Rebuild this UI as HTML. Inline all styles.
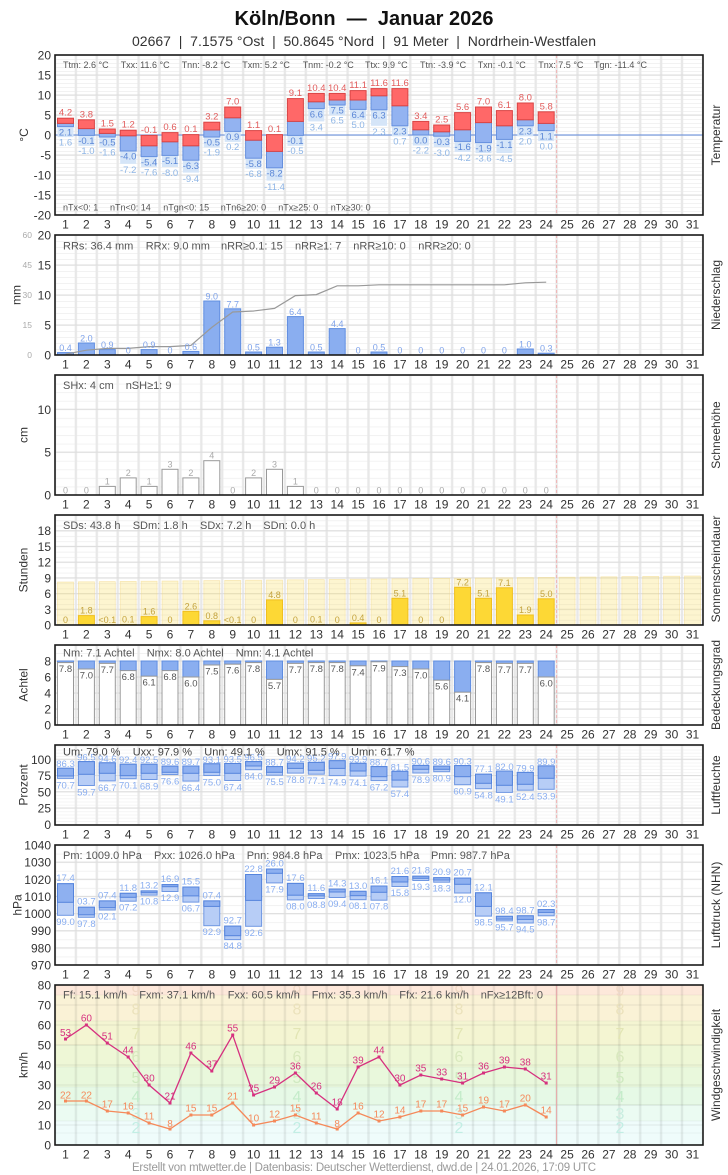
<!DOCTYPE html>
<html><head><meta charset="utf-8"><style>
html,body{margin:0;padding:0;background:#fff}
svg{display:block}
text{font-family:"Liberation Sans",Arial,sans-serif}
.tk{font-size:12px;fill:#333;text-anchor:end}
.tk2{font-size:8.5px;fill:#aaa;text-anchor:end}
.dl{font-size:12px;fill:#333;text-anchor:middle}
.st{font-size:11px;fill:#555}
.s9{font-size:9px;fill:#555}
.ax{font-size:12px;fill:#333;text-anchor:middle}
.lb{font-size:9.5px;text-anchor:middle}
.bf{font-size:16px;text-anchor:middle}
</style></head><body>
<svg width="728" height="1175" viewBox="0 0 728 1175" xmlns="http://www.w3.org/2000/svg">
<defs>
<pattern id="vg" x="55" y="0" width="20.9" height="100" patternUnits="userSpaceOnUse"><rect x="0" y="0" width="1.2" height="100" fill="#e8e8e8"/><rect x="19.7" y="0" width="1.2" height="100" fill="#e8e8e8"/></pattern>
<pattern id="vgw" x="55" y="0" width="20.9" height="100" patternUnits="userSpaceOnUse"><rect x="0" y="0" width="1.2" height="100" fill="#000" fill-opacity="0.07"/><rect x="19.7" y="0" width="1.2" height="100" fill="#000" fill-opacity="0.07"/></pattern>
<pattern id="m4" x="0" y="55" width="8" height="4" patternUnits="userSpaceOnUse"><rect width="8" height="1" fill="#f2f2f2"/></pattern>
<pattern id="m6" x="0" y="235" width="8" height="6" patternUnits="userSpaceOnUse"><rect width="8" height="1" fill="#f2f2f2"/></pattern>
<pattern id="ms" x="0" y="375" width="8" height="8.5714" patternUnits="userSpaceOnUse"><rect width="8" height="1" fill="#f2f2f2"/></pattern>
<pattern id="msun" x="0" y="515" width="8" height="5.238" patternUnits="userSpaceOnUse"><rect width="8" height="1" fill="#f2f2f2"/></pattern>
<pattern id="mc" x="0" y="645" width="8" height="8" patternUnits="userSpaceOnUse"><rect width="8" height="1" fill="#f2f2f2"/></pattern>
<pattern id="mu" x="0" y="743.05" width="8" height="3.25" patternUnits="userSpaceOnUse"><rect width="8" height="0.8" fill="#f3f3f3"/></pattern>
<pattern id="mp" x="0" y="845" width="8" height="8.5714" patternUnits="userSpaceOnUse"><rect width="8" height="1" fill="#f2f2f2"/></pattern>
</defs>
<rect width="728" height="1175" fill="#fff"/>

<!-- Title -->
<text x="364" y="25" font-size="20" font-weight="bold" text-anchor="middle" fill="#111" textLength="259" lengthAdjust="spacing">Köln/Bonn&#160;&#160;—&#160;&#160;Januar 2026</text>
<text x="364" y="46" font-size="14" text-anchor="middle" fill="#333" textLength="464" lengthAdjust="spacing">02667&#160;&#160;|&#160;&#160;7.1575 °Ost&#160;&#160;|&#160;&#160;50.8645 °Nord&#160;&#160;|&#160;&#160;91 Meter&#160;&#160;|&#160;&#160;Nordrhein-Westfalen</text>

<!-- ========== TEMPERATURE ========== -->
<rect x="55" y="55" width="648" height="160" fill="url(#m4)"/>
<rect x="55" y="55" width="648" height="160" fill="url(#vg)"/>
<path d="M55 75H703M55 95H703M55 115H703M55 155H703M55 175H703M55 195H703" stroke="#dcdcdc" stroke-width="1"/>
<line x1="556.6" y1="55" x2="556.6" y2="215" stroke="#f0b4b4" stroke-dasharray="3,2"/>
<line x1="55" y1="135" x2="703" y2="135" stroke="#5b86d8" stroke-width="1"/>
<g fill="#d5e5f8">
<rect x="57.5" y="126.6" width="16" height="10.5"/><rect x="78.4" y="135.4" width="16" height="10.5"/><rect x="99.3" y="137" width="16" height="10.5"/><rect x="120.2" y="151" width="16" height="12.8"/><rect x="141.1" y="156.6" width="16" height="10.5"/><rect x="162" y="155.4" width="16" height="11.6"/><rect x="182.9" y="160.2" width="16" height="12.4"/><rect x="203.8" y="137" width="16" height="10.5"/><rect x="224.7" y="131.4" width="16" height="10.5"/><rect x="245.6" y="158.2" width="16" height="10.5"/><rect x="266.5" y="167.8" width="16" height="12.8"/><rect x="287.4" y="135.4" width="16" height="10.5"/><rect x="308.3" y="108.6" width="16" height="12.8"/><rect x="329.2" y="105" width="16" height="10.5"/><rect x="350.1" y="109.4" width="16" height="10.5"/><rect x="371" y="109.8" width="16" height="16"/><rect x="391.9" y="125.8" width="16" height="10.5"/><rect x="412.8" y="135" width="16" height="10.5"/><rect x="433.7" y="136.2" width="16" height="10.8"/><rect x="454.6" y="141.4" width="16" height="10.5"/><rect x="475.5" y="142.6" width="16" height="10.5"/><rect x="496.4" y="139.4" width="16" height="13.6"/><rect x="517.3" y="125.8" width="16" height="10.5"/><rect x="538.2" y="130.6" width="16" height="10.5"/>
</g>
<g fill="#93b3f1" stroke="#6690de" stroke-width="1">
<rect x="57.5" y="123.4" width="16" height="3.2"/><rect x="78.4" y="128.6" width="16" height="6.8"/><rect x="99.3" y="133.4" width="16" height="3.6"/><rect x="120.2" y="135.8" width="16" height="15.2"/><rect x="141.1" y="145.8" width="16" height="10.8"/><rect x="162" y="141.8" width="16" height="13.6"/><rect x="182.9" y="145.8" width="16" height="14.4"/><rect x="203.8" y="130" width="16" height="7"/><rect x="224.7" y="117.8" width="16" height="13.6"/><rect x="245.6" y="140.2" width="16" height="18"/><rect x="266.5" y="151.4" width="16" height="16.4"/><rect x="287.4" y="121.4" width="16" height="14"/><rect x="308.3" y="101.8" width="16" height="6.8"/><rect x="329.2" y="100" width="16" height="5"/><rect x="350.1" y="100" width="16" height="9.4"/><rect x="371" y="95.8" width="16" height="14"/><rect x="391.9" y="105.8" width="16" height="20"/><rect x="412.8" y="129.8" width="16" height="5.2"/><rect x="433.7" y="131.8" width="16" height="4.4"/><rect x="454.6" y="129.8" width="16" height="11.6"/><rect x="475.5" y="122.6" width="16" height="20"/><rect x="496.4" y="125.8" width="16" height="13.6"/><rect x="517.3" y="119.8" width="16" height="6"/><rect x="538.2" y="123.4" width="16" height="7.2"/>
</g>
<g fill="#ff6868" stroke="#d94444" stroke-width="1">
<rect x="57.5" y="118.2" width="16" height="5.2"/><rect x="78.4" y="119.8" width="16" height="8.8"/><rect x="99.3" y="129" width="16" height="4.4"/><rect x="120.2" y="130.2" width="16" height="5.6"/><rect x="141.1" y="135.4" width="16" height="10.4"/><rect x="162" y="132.6" width="16" height="9.2"/><rect x="182.9" y="134.6" width="16" height="11.2"/><rect x="203.8" y="122.2" width="16" height="7.8"/><rect x="224.7" y="107" width="16" height="10.8"/><rect x="245.6" y="130.6" width="16" height="9.6"/><rect x="266.5" y="134.6" width="16" height="16.8"/><rect x="287.4" y="98.6" width="16" height="22.8"/><rect x="308.3" y="93.4" width="16" height="8.4"/><rect x="329.2" y="93.4" width="16" height="6.6"/><rect x="350.1" y="90.6" width="16" height="9.4"/><rect x="371" y="88.6" width="16" height="7.2"/><rect x="391.9" y="88.6" width="16" height="17.2"/><rect x="412.8" y="121.4" width="16" height="8.4"/><rect x="433.7" y="125" width="16" height="6.8"/><rect x="454.6" y="112.6" width="16" height="17.2"/><rect x="475.5" y="107" width="16" height="15.6"/><rect x="496.4" y="110.6" width="16" height="15.2"/><rect x="517.3" y="103" width="16" height="16.8"/><rect x="538.2" y="111.8" width="16" height="11.6"/>
</g>
<text class="lb" fill="#e25c5c"><tspan x="65.5" y="115.7">4.2</tspan><tspan x="86.4" y="117.3">3.8</tspan><tspan x="107.3" y="126.5">1.5</tspan><tspan x="128.2" y="127.7">1.2</tspan><tspan x="149.1" y="132.9">-0.1</tspan><tspan x="170" y="130.1">0.6</tspan><tspan x="190.9" y="132.1">0.1</tspan><tspan x="211.8" y="119.7">3.2</tspan><tspan x="232.7" y="104.5">7.0</tspan><tspan x="253.6" y="128.1">1.1</tspan><tspan x="274.5" y="132.1">0.1</tspan><tspan x="295.4" y="96.1">9.1</tspan><tspan x="316.3" y="90.9">10.4</tspan><tspan x="337.2" y="90.9">10.4</tspan><tspan x="358.1" y="88.1">11.1</tspan><tspan x="379" y="86.1">11.6</tspan><tspan x="399.9" y="86.1">11.6</tspan><tspan x="420.8" y="118.9">3.4</tspan><tspan x="441.7" y="122.5">2.5</tspan><tspan x="462.6" y="110.1">5.6</tspan><tspan x="483.5" y="104.5">7.0</tspan><tspan x="504.4" y="108.1">6.1</tspan><tspan x="525.3" y="100.5">8.0</tspan><tspan x="546.2" y="109.3">5.8</tspan></text>
<text class="lb" fill="#5a86d6"><tspan x="65.5" y="135.3">2.1</tspan><tspan x="86.4" y="144.1">-0.1</tspan><tspan x="107.3" y="145.7">-0.5</tspan><tspan x="128.2" y="159.7">-4.0</tspan><tspan x="149.1" y="165.3">-5.4</tspan><tspan x="170" y="164.1">-5.1</tspan><tspan x="190.9" y="168.9">-6.3</tspan><tspan x="211.8" y="145.7">-0.5</tspan><tspan x="232.7" y="140.1">0.9</tspan><tspan x="253.6" y="166.9">-5.8</tspan><tspan x="274.5" y="176.5">-8.2</tspan><tspan x="295.4" y="144.1">-0.1</tspan><tspan x="316.3" y="117.3">6.6</tspan><tspan x="337.2" y="113.7">7.5</tspan><tspan x="358.1" y="118.1">6.4</tspan><tspan x="379" y="118.5">6.3</tspan><tspan x="399.9" y="134.5">2.3</tspan><tspan x="420.8" y="143.7">0.0</tspan><tspan x="441.7" y="144.9">-0.3</tspan><tspan x="462.6" y="150.1">-1.6</tspan><tspan x="483.5" y="151.3">-1.9</tspan><tspan x="504.4" y="148.1">-1.1</tspan><tspan x="525.3" y="134.5">2.3</tspan><tspan x="546.2" y="139.3">1.1</tspan></text>
<text class="lb" fill="#8fb6e6"><tspan x="65.5" y="145.3">1.6</tspan><tspan x="86.4" y="154.1">-1.0</tspan><tspan x="107.3" y="155.7">-1.6</tspan><tspan x="128.2" y="173">-7.2</tspan><tspan x="149.1" y="175.3">-7.6</tspan><tspan x="170" y="176.2">-8.0</tspan><tspan x="190.9" y="181.8">-9.4</tspan><tspan x="211.8" y="155.7">-1.9</tspan><tspan x="232.7" y="150.1">0.2</tspan><tspan x="253.6" y="176.9">-6.8</tspan><tspan x="274.5" y="189.8">-11.4</tspan><tspan x="295.4" y="154.1">-0.5</tspan><tspan x="316.3" y="130.6">3.4</tspan><tspan x="337.2" y="123.7">6.5</tspan><tspan x="358.1" y="128.1">5.0</tspan><tspan x="379" y="135">2.3</tspan><tspan x="399.9" y="144.5">0.7</tspan><tspan x="420.8" y="153.7">-2.2</tspan><tspan x="441.7" y="156.2">-3.0</tspan><tspan x="462.6" y="161">-4.2</tspan><tspan x="483.5" y="161.3">-3.6</tspan><tspan x="504.4" y="162.2">-4.5</tspan><tspan x="525.3" y="144.5">2.0</tspan><tspan x="546.2" y="149.3">0.0</tspan></text>
<text class="s9" y="68"><tspan x="63">Ttm: 2.6 °C</tspan><tspan x="120.7">Txx: 11.6 °C</tspan><tspan x="181.7">Tnn: -8.2 °C</tspan><tspan x="242.3">Txm: 5.2 °C</tspan><tspan x="302.7">Tnm: -0.2 °C</tspan><tspan x="365">Ttx: 9.9 °C</tspan><tspan x="420">Ttn: -3.9 °C</tspan><tspan x="477.7">Txn: -0.1 °C</tspan><tspan x="538.3">Tnx: 7.5 °C</tspan><tspan x="594">Tgn: -11.4 °C</tspan></text>
<text class="s9" y="210.7"><tspan x="63">nTx&lt;0: 1</tspan><tspan x="110">nTn&lt;0: 14</tspan><tspan x="163.3">nTgn&lt;0: 15</tspan><tspan x="220.7">nTn6≥20: 0</tspan><tspan x="278.3">nTx≥25: 0</tspan><tspan x="330.7">nTx≥30: 0</tspan></text>
<rect x="55" y="55" width="648" height="160" fill="none" stroke="#1a1a1a" stroke-width="1.6"/>
<text class="tk"><tspan x="51" y="59.5">20</tspan><tspan x="51" y="79.5">15</tspan><tspan x="51" y="99.5">10</tspan><tspan x="51" y="119.5">5</tspan><tspan x="51" y="139.5">0</tspan><tspan x="51" y="159.5">-5</tspan><tspan x="51" y="179.5">-10</tspan><tspan x="51" y="199.5">-15</tspan><tspan x="51" y="219.5">-20</tspan></text>
<text class="ax" transform="translate(28,135) rotate(-90)">°C</text>
<text class="ax" transform="translate(720,135) rotate(-90)">Temperatur</text>
<text class="dl" y="228.5"><tspan x="65.5">1</tspan><tspan x="86.4">2</tspan><tspan x="107.3">3</tspan><tspan x="128.2">4</tspan><tspan x="149.1">5</tspan><tspan x="170">6</tspan><tspan x="190.9">7</tspan><tspan x="211.8">8</tspan><tspan x="232.7">9</tspan><tspan x="253.6">10</tspan><tspan x="274.5">11</tspan><tspan x="295.4">12</tspan><tspan x="316.3">13</tspan><tspan x="337.2">14</tspan><tspan x="358.1">15</tspan><tspan x="379">16</tspan><tspan x="399.9">17</tspan><tspan x="420.8">18</tspan><tspan x="441.7">19</tspan><tspan x="462.6">20</tspan><tspan x="483.5">21</tspan><tspan x="504.4">22</tspan><tspan x="525.3">23</tspan><tspan x="546.2">24</tspan><tspan x="567.1">25</tspan><tspan x="588">26</tspan><tspan x="608.9">27</tspan><tspan x="629.8">28</tspan><tspan x="650.7">29</tspan><tspan x="671.6">30</tspan><tspan x="692.5">31</tspan></text>

<!-- ========== PRECIPITATION ========== -->
<rect x="55" y="235" width="648" height="120" fill="url(#m6)"/>
<rect x="55" y="235" width="648" height="120" fill="url(#vg)"/>
<path d="M55 265H703M55 295H703M55 325H703" stroke="#dcdcdc" stroke-width="1"/>
<line x1="556.6" y1="235" x2="556.6" y2="355" stroke="#f0b4b4" stroke-dasharray="3,2"/>
<g fill="#8aaef0" stroke="#5f8de0" stroke-width="1">
<rect x="57.5" y="352.6" width="16" height="2.4"/><rect x="78.4" y="343" width="16" height="12"/><rect x="99.3" y="349.6" width="16" height="5.4"/><rect x="141.1" y="349.6" width="16" height="5.4"/><rect x="182.9" y="351.4" width="16" height="3.6"/><rect x="203.8" y="301" width="16" height="54"/><rect x="224.7" y="308.8" width="16" height="46.2"/><rect x="245.6" y="352" width="16" height="3"/><rect x="266.5" y="347.2" width="16" height="7.8"/><rect x="287.4" y="316.6" width="16" height="38.4"/><rect x="308.3" y="352" width="16" height="3"/><rect x="329.2" y="328.6" width="16" height="26.4"/><rect x="371" y="352" width="16" height="3"/><rect x="517.3" y="349" width="16" height="6"/><rect x="538.2" y="353.2" width="16" height="1.8"/>
</g>
<polyline fill="none" stroke="#999" stroke-width="1.2" points="65.5,354.2 86.4,350.2 107.3,348.4 128.2,348.4 149.1,346.6 170,346.6 190.9,345.4 211.8,327.4 232.7,312 253.6,311 274.5,308.4 295.4,295.6 316.3,294.6 337.2,285.8 358.1,285.8 379,284.8 399.9,284.8 420.8,284.8 441.7,284.8 462.6,284.8 483.5,284.8 504.4,284.8 525.3,282.8 546.2,282.2"/>
<text class="lb" fill="#7fa3ea" style="font-size:9px"><tspan x="65.5" y="351">0.4</tspan><tspan x="86.4" y="341.5">2.0</tspan><tspan x="107.3" y="348">0.9</tspan><tspan x="128.2" y="353.5">0</tspan><tspan x="149.1" y="348">0.9</tspan><tspan x="170" y="353.5">0</tspan><tspan x="190.9" y="350">0.6</tspan><tspan x="211.8" y="299.5">9.0</tspan><tspan x="232.7" y="307.3">7.7</tspan><tspan x="253.6" y="350.5">0.5</tspan><tspan x="274.5" y="345.7">1.3</tspan><tspan x="295.4" y="315.1">6.4</tspan><tspan x="316.3" y="350.5">0.5</tspan><tspan x="337.2" y="327.1">4.4</tspan><tspan x="358.1" y="353.5">0</tspan><tspan x="379" y="350.5">0.5</tspan><tspan x="399.9" y="353.5">0</tspan><tspan x="420.8" y="353.5">0</tspan><tspan x="441.7" y="353.5">0</tspan><tspan x="462.6" y="353.5">0</tspan><tspan x="483.5" y="353.5">0</tspan><tspan x="504.4" y="353.5">0</tspan><tspan x="525.3" y="347.5">1.0</tspan><tspan x="546.2" y="351.7">0.3</tspan></text>
<text class="st" y="249.5"><tspan x="63">RRs: 36.4 mm</tspan><tspan x="145.7">RRx: 9.0 mm</tspan><tspan x="221">nRR≥0.1: 15</tspan><tspan x="295">nRR≥1: 7</tspan><tspan x="353.3">nRR≥10: 0</tspan><tspan x="418.3">nRR≥20: 0</tspan></text>
<rect x="55" y="235" width="648" height="120" fill="none" stroke="#1a1a1a" stroke-width="1.6"/>
<text class="tk"><tspan x="51" y="239.5">20</tspan><tspan x="51" y="269.5">15</tspan><tspan x="51" y="299.5">10</tspan><tspan x="51" y="329.5">5</tspan><tspan x="51" y="359.5">0</tspan></text>
<text class="tk2"><tspan x="32" y="238">60</tspan><tspan x="32" y="268">45</tspan><tspan x="32" y="298">30</tspan><tspan x="32" y="328">15</tspan><tspan x="32" y="358">0</tspan></text>
<text class="ax" transform="translate(20.5,295) rotate(-90)">mm</text>
<text class="ax" transform="translate(720,295) rotate(-90)">Niederschlag</text>
<text class="dl" y="368.5"><tspan x="65.5">1</tspan><tspan x="86.4">2</tspan><tspan x="107.3">3</tspan><tspan x="128.2">4</tspan><tspan x="149.1">5</tspan><tspan x="170">6</tspan><tspan x="190.9">7</tspan><tspan x="211.8">8</tspan><tspan x="232.7">9</tspan><tspan x="253.6">10</tspan><tspan x="274.5">11</tspan><tspan x="295.4">12</tspan><tspan x="316.3">13</tspan><tspan x="337.2">14</tspan><tspan x="358.1">15</tspan><tspan x="379">16</tspan><tspan x="399.9">17</tspan><tspan x="420.8">18</tspan><tspan x="441.7">19</tspan><tspan x="462.6">20</tspan><tspan x="483.5">21</tspan><tspan x="504.4">22</tspan><tspan x="525.3">23</tspan><tspan x="546.2">24</tspan><tspan x="567.1">25</tspan><tspan x="588">26</tspan><tspan x="608.9">27</tspan><tspan x="629.8">28</tspan><tspan x="650.7">29</tspan><tspan x="671.6">30</tspan><tspan x="692.5">31</tspan></text>

<!-- ========== SNOW ========== -->
<rect x="55" y="375" width="648" height="120" fill="url(#ms)"/>
<rect x="55" y="375" width="648" height="120" fill="url(#vg)"/>
<path d="M55 409.3H703M55 452.1H703" stroke="#dcdcdc" stroke-width="1"/>
<line x1="556.6" y1="375" x2="556.6" y2="495" stroke="#f0b4b4" stroke-dasharray="3,2"/>
<g fill="#fff" stroke="#999" stroke-width="1">
<rect x="99.3" y="486.4" width="16" height="8.6"/><rect x="120.2" y="477.9" width="16" height="17.1"/><rect x="141.1" y="486.4" width="16" height="8.6"/><rect x="162" y="469.3" width="16" height="25.7"/><rect x="182.9" y="477.9" width="16" height="17.1"/><rect x="203.8" y="460.7" width="16" height="34.3"/><rect x="245.6" y="477.9" width="16" height="17.1"/><rect x="266.5" y="469.3" width="16" height="25.7"/><rect x="287.4" y="486.4" width="16" height="8.6"/>
</g>
<text class="lb" fill="#aaa" style="font-size:9px"><tspan x="65.5" y="493.5">0</tspan><tspan x="86.4" y="493.5">0</tspan><tspan x="107.3" y="484.4">1</tspan><tspan x="128.2" y="475.9">2</tspan><tspan x="149.1" y="484.4">1</tspan><tspan x="170" y="467.3">3</tspan><tspan x="190.9" y="475.9">2</tspan><tspan x="211.8" y="458.7">4</tspan><tspan x="232.7" y="493.5">0</tspan><tspan x="253.6" y="475.9">2</tspan><tspan x="274.5" y="467.3">3</tspan><tspan x="295.4" y="484.4">1</tspan><tspan x="316.3" y="493.5">0</tspan><tspan x="337.2" y="493.5">0</tspan><tspan x="358.1" y="493.5">0</tspan><tspan x="379" y="493.5">0</tspan><tspan x="399.9" y="493.5">0</tspan><tspan x="420.8" y="493.5">0</tspan><tspan x="441.7" y="493.5">0</tspan><tspan x="462.6" y="493.5">0</tspan><tspan x="483.5" y="493.5">0</tspan><tspan x="504.4" y="493.5">0</tspan><tspan x="525.3" y="493.5">0</tspan><tspan x="546.2" y="493.5">0</tspan></text>
<text class="st" y="389"><tspan x="63">SHx: 4 cm</tspan><tspan x="125.7">nSH≥1: 9</tspan></text>
<rect x="55" y="375" width="648" height="120" fill="none" stroke="#1a1a1a" stroke-width="1.6"/>
<text class="tk"><tspan x="51" y="413.8">10</tspan><tspan x="51" y="456.6">5</tspan><tspan x="51" y="499.5">0</tspan></text>
<text class="ax" transform="translate(27.5,435) rotate(-90)">cm</text>
<text class="ax" transform="translate(720,435) rotate(-90)">Schneehöhe</text>
<text class="dl" y="508.5"><tspan x="65.5">1</tspan><tspan x="86.4">2</tspan><tspan x="107.3">3</tspan><tspan x="128.2">4</tspan><tspan x="149.1">5</tspan><tspan x="170">6</tspan><tspan x="190.9">7</tspan><tspan x="211.8">8</tspan><tspan x="232.7">9</tspan><tspan x="253.6">10</tspan><tspan x="274.5">11</tspan><tspan x="295.4">12</tspan><tspan x="316.3">13</tspan><tspan x="337.2">14</tspan><tspan x="358.1">15</tspan><tspan x="379">16</tspan><tspan x="399.9">17</tspan><tspan x="420.8">18</tspan><tspan x="441.7">19</tspan><tspan x="462.6">20</tspan><tspan x="483.5">21</tspan><tspan x="504.4">22</tspan><tspan x="525.3">23</tspan><tspan x="546.2">24</tspan><tspan x="567.1">25</tspan><tspan x="588">26</tspan><tspan x="608.9">27</tspan><tspan x="629.8">28</tspan><tspan x="650.7">29</tspan><tspan x="671.6">30</tspan><tspan x="692.5">31</tspan></text>

<!-- ========== SUNSHINE ========== -->
<rect x="55" y="515" width="648" height="110" fill="url(#msun)"/>
<rect x="55" y="515" width="648" height="110" fill="url(#vg)"/>
<path d="M55 530.7H703M55 546.4H703M55 562.1H703M55 577.9H703M55 593.6H703M55 609.3H703" stroke="#dcdcdc" stroke-width="1"/>
<g fill="#f9df6e" fill-opacity="0.32" stroke="#f3d98a" stroke-opacity="0.55" stroke-width="0.8">
<rect x="57.5" y="582" width="16" height="43"/><rect x="78.4" y="581.8" width="16" height="43.2"/><rect x="99.3" y="581.6" width="16" height="43.4"/><rect x="120.2" y="581.4" width="16" height="43.6"/><rect x="141.1" y="581.2" width="16" height="43.8"/><rect x="162" y="581" width="16" height="44"/><rect x="182.9" y="580.8" width="16" height="44.2"/><rect x="203.8" y="580.6" width="16" height="44.4"/><rect x="224.7" y="580.4" width="16" height="44.6"/><rect x="245.6" y="580.2" width="16" height="44.8"/><rect x="266.5" y="580" width="16" height="45"/><rect x="287.4" y="579.8" width="16" height="45.2"/><rect x="308.3" y="579.6" width="16" height="45.4"/><rect x="329.2" y="579.4" width="16" height="45.6"/><rect x="350.1" y="579.2" width="16" height="45.8"/><rect x="371" y="579" width="16" height="46"/><rect x="391.9" y="578.8" width="16" height="46.2"/><rect x="412.8" y="578.6" width="16" height="46.4"/><rect x="433.7" y="578.4" width="16" height="46.6"/><rect x="454.6" y="578.2" width="16" height="46.8"/><rect x="475.5" y="578" width="16" height="47"/><rect x="496.4" y="577.8" width="16" height="47.2"/><rect x="517.3" y="577.6" width="16" height="47.4"/><rect x="538.2" y="577.4" width="16" height="47.6"/><rect x="559.1" y="577.2" width="16" height="47.8"/><rect x="580" y="577" width="16" height="48"/><rect x="600.9" y="576.8" width="16" height="48.2"/><rect x="621.8" y="576.6" width="16" height="48.4"/><rect x="642.7" y="576.4" width="16" height="48.6"/><rect x="663.6" y="576.2" width="16" height="48.8"/><rect x="684.5" y="576" width="16" height="49"/>
</g>
<line x1="556.6" y1="515" x2="556.6" y2="625" stroke="#f0b4b4" stroke-dasharray="3,2"/>
<g fill="#fdd835" stroke="#f0c020" stroke-width="1">
<rect x="78.4" y="615.6" width="16" height="9.4"/><rect x="99.3" y="624.6" width="16" height="0.4"/><rect x="120.2" y="624.5" width="16" height="0.5"/><rect x="141.1" y="616.6" width="16" height="8.4"/><rect x="182.9" y="611.4" width="16" height="13.6"/><rect x="203.8" y="620.8" width="16" height="4.2"/><rect x="224.7" y="624.6" width="16" height="0.4"/><rect x="266.5" y="599.9" width="16" height="25.1"/><rect x="308.3" y="624.5" width="16" height="0.5"/><rect x="350.1" y="622.9" width="16" height="2.1"/><rect x="391.9" y="598.3" width="16" height="26.7"/><rect x="454.6" y="587.3" width="16" height="37.7"/><rect x="475.5" y="598.3" width="16" height="26.7"/><rect x="496.4" y="587.8" width="16" height="37.2"/><rect x="517.3" y="615" width="16" height="10"/><rect x="538.2" y="598.8" width="16" height="26.2"/>
</g>
<text class="lb" fill="#c4a33c" style="font-size:9px"><tspan x="65.5" y="623">0</tspan><tspan x="86.4" y="613.6">1.8</tspan><tspan x="107.3" y="623">&lt;0.1</tspan><tspan x="128.2" y="622.5">0.1</tspan><tspan x="149.1" y="614.6">1.6</tspan><tspan x="170" y="623">0</tspan><tspan x="190.9" y="609.4">2.6</tspan><tspan x="211.8" y="618.8">0.8</tspan><tspan x="232.7" y="623">&lt;0.1</tspan><tspan x="253.6" y="623">0</tspan><tspan x="274.5" y="597.9">4.8</tspan><tspan x="295.4" y="623">0</tspan><tspan x="316.3" y="622.5">0.1</tspan><tspan x="337.2" y="623">0</tspan><tspan x="358.1" y="620.9">0.4</tspan><tspan x="379" y="623">0</tspan><tspan x="399.9" y="596.3">5.1</tspan><tspan x="420.8" y="623">0</tspan><tspan x="441.7" y="623">0</tspan><tspan x="462.6" y="585.3">7.2</tspan><tspan x="483.5" y="596.3">5.1</tspan><tspan x="504.4" y="585.8">7.1</tspan><tspan x="525.3" y="613">1.9</tspan><tspan x="546.2" y="596.8">5.0</tspan></text>
<text class="st" y="529"><tspan x="63">SDs: 43.8 h</tspan><tspan x="132.7">SDm: 1.8 h</tspan><tspan x="200">SDx: 7.2 h</tspan><tspan x="263.3">SDn: 0.0 h</tspan></text>
<rect x="55" y="515" width="648" height="110" fill="none" stroke="#1a1a1a" stroke-width="1.6"/>
<text class="tk"><tspan x="51" y="535.2">18</tspan><tspan x="51" y="550.9">15</tspan><tspan x="51" y="566.6">12</tspan><tspan x="51" y="582.4">9</tspan><tspan x="51" y="598.1">6</tspan><tspan x="51" y="613.8">3</tspan><tspan x="51" y="629.5">0</tspan></text>
<text class="ax" transform="translate(27.5,570) rotate(-90)">Stunden</text>
<text class="ax" transform="translate(720,569) rotate(-90)">Sonnenscheindauer</text>
<text class="dl" y="638.5"><tspan x="65.5">1</tspan><tspan x="86.4">2</tspan><tspan x="107.3">3</tspan><tspan x="128.2">4</tspan><tspan x="149.1">5</tspan><tspan x="170">6</tspan><tspan x="190.9">7</tspan><tspan x="211.8">8</tspan><tspan x="232.7">9</tspan><tspan x="253.6">10</tspan><tspan x="274.5">11</tspan><tspan x="295.4">12</tspan><tspan x="316.3">13</tspan><tspan x="337.2">14</tspan><tspan x="358.1">15</tspan><tspan x="379">16</tspan><tspan x="399.9">17</tspan><tspan x="420.8">18</tspan><tspan x="441.7">19</tspan><tspan x="462.6">20</tspan><tspan x="483.5">21</tspan><tspan x="504.4">22</tspan><tspan x="525.3">23</tspan><tspan x="546.2">24</tspan><tspan x="567.1">25</tspan><tspan x="588">26</tspan><tspan x="608.9">27</tspan><tspan x="629.8">28</tspan><tspan x="650.7">29</tspan><tspan x="671.6">30</tspan><tspan x="692.5">31</tspan></text>

<!-- ========== CLOUD COVER ========== -->
<rect x="55" y="645" width="648" height="80" fill="url(#mc)"/>
<rect x="55" y="645" width="648" height="80" fill="url(#vg)"/>
<path d="M55 661H703M55 677H703M55 693H703M55 709H703" stroke="#dcdcdc" stroke-width="1"/>
<line x1="556.6" y1="645" x2="556.6" y2="725" stroke="#f0b4b4" stroke-dasharray="3,2"/>
<g fill="#8aaef0" stroke="#5f8de0" stroke-width="1">
<rect x="57.5" y="661" width="16" height="1.6"/><rect x="78.4" y="661" width="16" height="8"/><rect x="99.3" y="661" width="16" height="2.4"/><rect x="120.2" y="661" width="16" height="9.6"/><rect x="141.1" y="661" width="16" height="15.2"/><rect x="162" y="661" width="16" height="9.6"/><rect x="182.9" y="661" width="16" height="16"/><rect x="203.8" y="661" width="16" height="4"/><rect x="224.7" y="661" width="16" height="3.2"/><rect x="245.6" y="661" width="16" height="1.6"/><rect x="266.5" y="661" width="16" height="18.4"/><rect x="287.4" y="661" width="16" height="2.4"/><rect x="308.3" y="661" width="16" height="1.6"/><rect x="329.2" y="661" width="16" height="1.6"/><rect x="350.1" y="661" width="16" height="4.8"/><rect x="371" y="661" width="16" height="0.8"/><rect x="391.9" y="661" width="16" height="5.6"/><rect x="412.8" y="661" width="16" height="8"/><rect x="433.7" y="661" width="16" height="19.2"/><rect x="454.6" y="661" width="16" height="31.2"/><rect x="475.5" y="661" width="16" height="1.6"/><rect x="496.4" y="661" width="16" height="2.4"/><rect x="517.3" y="661" width="16" height="2.4"/><rect x="538.2" y="661" width="16" height="16"/>
</g>
<g fill="#fff" stroke="#999" stroke-width="1">
<rect x="57.5" y="662.6" width="16" height="62.4"/><rect x="78.4" y="669" width="16" height="56"/><rect x="99.3" y="663.4" width="16" height="61.6"/><rect x="120.2" y="670.6" width="16" height="54.4"/><rect x="141.1" y="676.2" width="16" height="48.8"/><rect x="162" y="670.6" width="16" height="54.4"/><rect x="182.9" y="677" width="16" height="48"/><rect x="203.8" y="665" width="16" height="60"/><rect x="224.7" y="664.2" width="16" height="60.8"/><rect x="245.6" y="662.6" width="16" height="62.4"/><rect x="266.5" y="679.4" width="16" height="45.6"/><rect x="287.4" y="663.4" width="16" height="61.6"/><rect x="308.3" y="662.6" width="16" height="62.4"/><rect x="329.2" y="662.6" width="16" height="62.4"/><rect x="350.1" y="665.8" width="16" height="59.2"/><rect x="371" y="661.8" width="16" height="63.2"/><rect x="391.9" y="666.6" width="16" height="58.4"/><rect x="412.8" y="669" width="16" height="56"/><rect x="433.7" y="680.2" width="16" height="44.8"/><rect x="454.6" y="692.2" width="16" height="32.8"/><rect x="475.5" y="662.6" width="16" height="62.4"/><rect x="496.4" y="663.4" width="16" height="61.6"/><rect x="517.3" y="663.4" width="16" height="61.6"/><rect x="538.2" y="677" width="16" height="48"/>
</g>
<text class="lb" fill="#555"><tspan x="65.5" y="672.1">7.8</tspan><tspan x="86.4" y="678.5">7.0</tspan><tspan x="107.3" y="672.9">7.7</tspan><tspan x="128.2" y="680.1">6.8</tspan><tspan x="149.1" y="685.7">6.1</tspan><tspan x="170" y="680.1">6.8</tspan><tspan x="190.9" y="686.5">6.0</tspan><tspan x="211.8" y="674.5">7.5</tspan><tspan x="232.7" y="673.7">7.6</tspan><tspan x="253.6" y="672.1">7.8</tspan><tspan x="274.5" y="688.9">5.7</tspan><tspan x="295.4" y="672.9">7.7</tspan><tspan x="316.3" y="672.1">7.8</tspan><tspan x="337.2" y="672.1">7.8</tspan><tspan x="358.1" y="675.3">7.4</tspan><tspan x="379" y="671.3">7.9</tspan><tspan x="399.9" y="676.1">7.3</tspan><tspan x="420.8" y="678.5">7.0</tspan><tspan x="441.7" y="689.7">5.6</tspan><tspan x="462.6" y="701.7">4.1</tspan><tspan x="483.5" y="672.1">7.8</tspan><tspan x="504.4" y="672.9">7.7</tspan><tspan x="525.3" y="672.9">7.7</tspan><tspan x="546.2" y="686.5">6.0</tspan></text>
<text class="st" y="656.5"><tspan x="63">Nm: 7.1 Achtel</tspan><tspan x="146.7">Nmx: 8.0 Achtel</tspan><tspan x="235.7">Nmn: 4.1 Achtel</tspan></text>
<rect x="55" y="645" width="648" height="80" fill="none" stroke="#1a1a1a" stroke-width="1.6"/>
<text class="tk"><tspan x="51" y="665.5">8</tspan><tspan x="51" y="681.5">6</tspan><tspan x="51" y="697.5">4</tspan><tspan x="51" y="713.5">2</tspan><tspan x="51" y="729.5">0</tspan></text>
<text class="ax" transform="translate(27.5,685) rotate(-90)">Achtel</text>
<text class="ax" transform="translate(720,685) rotate(-90)">Bedeckungsgrad</text>
<text class="dl" y="738.5"><tspan x="65.5">1</tspan><tspan x="86.4">2</tspan><tspan x="107.3">3</tspan><tspan x="128.2">4</tspan><tspan x="149.1">5</tspan><tspan x="170">6</tspan><tspan x="190.9">7</tspan><tspan x="211.8">8</tspan><tspan x="232.7">9</tspan><tspan x="253.6">10</tspan><tspan x="274.5">11</tspan><tspan x="295.4">12</tspan><tspan x="316.3">13</tspan><tspan x="337.2">14</tspan><tspan x="358.1">15</tspan><tspan x="379">16</tspan><tspan x="399.9">17</tspan><tspan x="420.8">18</tspan><tspan x="441.7">19</tspan><tspan x="462.6">20</tspan><tspan x="483.5">21</tspan><tspan x="504.4">22</tspan><tspan x="525.3">23</tspan><tspan x="546.2">24</tspan><tspan x="567.1">25</tspan><tspan x="588">26</tspan><tspan x="608.9">27</tspan><tspan x="629.8">28</tspan><tspan x="650.7">29</tspan><tspan x="671.6">30</tspan><tspan x="692.5">31</tspan></text>

<!-- ========== HUMIDITY ========== -->
<rect x="55" y="745" width="648" height="80" fill="url(#mu)"/>
<rect x="55" y="745" width="648" height="80" fill="url(#vg)"/>
<path d="M55 759.3H703M55 775.55H703M55 791.8H703M55 808.05H703" stroke="#dcdcdc" stroke-width="1"/>
<line x1="556.6" y1="745" x2="556.6" y2="825" stroke="#f0b4b4" stroke-dasharray="3,2"/>
<g fill="#b7cdf6" stroke="#6f97e2" stroke-width="1">
<rect x="57.5" y="768.2" width="16" height="10.2"/><rect x="78.4" y="761.6" width="16" height="23.9"/><rect x="99.3" y="762.8" width="16" height="18.1"/><rect x="120.2" y="764.2" width="16" height="14.5"/><rect x="141.1" y="764.2" width="16" height="15.3"/><rect x="162" y="766.1" width="16" height="8.4"/><rect x="182.9" y="766" width="16" height="15.1"/><rect x="203.8" y="763.8" width="16" height="11.7"/><rect x="224.7" y="763.5" width="16" height="17"/><rect x="245.6" y="761.6" width="16" height="8.1"/><rect x="266.5" y="766.6" width="16" height="8.6"/><rect x="287.4" y="763.1" width="16" height="10"/><rect x="308.3" y="762.4" width="16" height="11.8"/><rect x="329.2" y="760.7" width="16" height="14.9"/><rect x="350.1" y="763.3" width="16" height="12.8"/><rect x="371" y="766.6" width="16" height="14"/><rect x="391.9" y="771.3" width="16" height="15.7"/><rect x="412.8" y="765.4" width="16" height="7.6"/><rect x="433.7" y="766.1" width="16" height="5.6"/><rect x="454.6" y="765.6" width="16" height="19.1"/><rect x="475.5" y="774.2" width="16" height="14.5"/><rect x="496.4" y="771" width="16" height="21.4"/><rect x="517.3" y="772.4" width="16" height="17.8"/><rect x="538.2" y="765.9" width="16" height="23.4"/>
</g>
<g fill="#8eb0f0" stroke="#5584dc" stroke-width="1">
<rect x="57.5" y="768.2" width="16" height="7.8"/><rect x="78.4" y="761.6" width="16" height="12.7"/><rect x="99.3" y="762.8" width="16" height="10.5"/><rect x="120.2" y="764.2" width="16" height="11.5"/><rect x="141.1" y="764.2" width="16" height="9.1"/><rect x="162" y="766.1" width="16" height="6.2"/><rect x="182.9" y="766" width="16" height="7.3"/><rect x="203.8" y="763.8" width="16" height="8.5"/><rect x="224.7" y="763.5" width="16" height="9.8"/><rect x="245.6" y="761.6" width="16" height="4.4"/><rect x="266.5" y="766.6" width="16" height="5.7"/><rect x="287.4" y="763.1" width="16" height="5.3"/><rect x="308.3" y="762.4" width="16" height="7.9"/><rect x="329.2" y="760.7" width="16" height="7.7"/><rect x="350.1" y="763.3" width="16" height="7.7"/><rect x="371" y="766.6" width="16" height="10.1"/><rect x="391.9" y="771.3" width="16" height="8.8"/><rect x="412.8" y="765.4" width="16" height="3.9"/><rect x="433.7" y="766.1" width="16" height="3.2"/><rect x="454.6" y="765.6" width="16" height="11.1"/><rect x="475.5" y="774.2" width="16" height="9.1"/><rect x="496.4" y="771" width="16" height="14.3"/><rect x="517.3" y="772.4" width="16" height="11.9"/><rect x="538.2" y="765.9" width="16" height="12.4"/>
</g>
<text class="lb" fill="#8aaef0"><tspan x="65.5" y="767.2">86.3</tspan><tspan x="86.4" y="760.6">96.5</tspan><tspan x="107.3" y="761.8">94.6</tspan><tspan x="128.2" y="763.2">92.4</tspan><tspan x="149.1" y="763.2">92.5</tspan><tspan x="170" y="765.1">89.6</tspan><tspan x="190.9" y="765">89.7</tspan><tspan x="211.8" y="762.8">93.1</tspan><tspan x="232.7" y="762.5">93.5</tspan><tspan x="253.6" y="760.6">96.5</tspan><tspan x="274.5" y="765.6">88.7</tspan><tspan x="295.4" y="762.1">94.2</tspan><tspan x="316.3" y="761.4">95.2</tspan><tspan x="337.2" y="759.7">97.9</tspan><tspan x="358.1" y="762.3">93.9</tspan><tspan x="379" y="765.6">88.7</tspan><tspan x="399.9" y="770.3">81.5</tspan><tspan x="420.8" y="764.4">90.6</tspan><tspan x="441.7" y="765.1">89.6</tspan><tspan x="462.6" y="764.6">90.3</tspan><tspan x="483.5" y="772">77.1</tspan><tspan x="504.4" y="770">82.0</tspan><tspan x="525.3" y="771.4">79.9</tspan><tspan x="546.2" y="764.9">89.9</tspan></text>
<text class="lb" fill="#8aaef0"><tspan x="65.5" y="788.4">70.7</tspan><tspan x="86.4" y="795.5">59.7</tspan><tspan x="107.3" y="790.9">66.7</tspan><tspan x="128.2" y="788.7">70.1</tspan><tspan x="149.1" y="789.5">68.9</tspan><tspan x="170" y="784.5">76.6</tspan><tspan x="190.9" y="791.1">66.4</tspan><tspan x="211.8" y="785.5">75.0</tspan><tspan x="232.7" y="790.5">67.4</tspan><tspan x="253.6" y="779.7">84.0</tspan><tspan x="274.5" y="785.2">75.5</tspan><tspan x="295.4" y="783.1">78.8</tspan><tspan x="316.3" y="784.2">77.1</tspan><tspan x="337.2" y="785.6">74.9</tspan><tspan x="358.1" y="786.1">74.1</tspan><tspan x="379" y="790.6">67.2</tspan><tspan x="399.9" y="797">57.4</tspan><tspan x="420.8" y="783">78.9</tspan><tspan x="441.7" y="781.7">80.9</tspan><tspan x="462.6" y="794.7">60.9</tspan><tspan x="483.5" y="798.7">54.8</tspan><tspan x="504.4" y="802.4">49.1</tspan><tspan x="525.3" y="800.2">52.4</tspan><tspan x="546.2" y="799.3">53.9</tspan></text>
<text class="st" y="755.5" style="fill:#444"><tspan x="63">Um: 79.0 %</tspan><tspan x="132.7">Uxx: 97.9 %</tspan><tspan x="204.3">Unn: 49.1 %</tspan><tspan x="276.7">Umx: 91.5 %</tspan><tspan x="351">Umn: 61.7 %</tspan></text>
<rect x="55" y="745" width="648" height="80" fill="none" stroke="#1a1a1a" stroke-width="1.6"/>
<text class="tk"><tspan x="51" y="763.8">100</tspan><tspan x="51" y="780">75</tspan><tspan x="51" y="796.3">50</tspan><tspan x="51" y="812.5">25</tspan><tspan x="51" y="828.8">0</tspan></text>
<text class="ax" transform="translate(27.5,785) rotate(-90)">Prozent</text>
<text class="ax" transform="translate(720,785) rotate(-90)">Luftfeuchte</text>
<text class="dl" y="838.5"><tspan x="65.5">1</tspan><tspan x="86.4">2</tspan><tspan x="107.3">3</tspan><tspan x="128.2">4</tspan><tspan x="149.1">5</tspan><tspan x="170">6</tspan><tspan x="190.9">7</tspan><tspan x="211.8">8</tspan><tspan x="232.7">9</tspan><tspan x="253.6">10</tspan><tspan x="274.5">11</tspan><tspan x="295.4">12</tspan><tspan x="316.3">13</tspan><tspan x="337.2">14</tspan><tspan x="358.1">15</tspan><tspan x="379">16</tspan><tspan x="399.9">17</tspan><tspan x="420.8">18</tspan><tspan x="441.7">19</tspan><tspan x="462.6">20</tspan><tspan x="483.5">21</tspan><tspan x="504.4">22</tspan><tspan x="525.3">23</tspan><tspan x="546.2">24</tspan><tspan x="567.1">25</tspan><tspan x="588">26</tspan><tspan x="608.9">27</tspan><tspan x="629.8">28</tspan><tspan x="650.7">29</tspan><tspan x="671.6">30</tspan><tspan x="692.5">31</tspan></text>

<!-- ========== PRESSURE ========== -->
<rect x="55" y="845" width="648" height="120" fill="url(#mp)"/>
<rect x="55" y="845" width="648" height="120" fill="url(#vg)"/>
<path d="M55 862.1H703M55 879.3H703M55 896.4H703M55 913.6H703M55 930.7H703M55 947.9H703" stroke="#dcdcdc" stroke-width="1"/>
<line x1="556.6" y1="845" x2="556.6" y2="965" stroke="#f0b4b4" stroke-dasharray="3,2"/>
<g fill="#b7cdf6" stroke="#6f97e2" stroke-width="1">
<rect x="57.5" y="883.7" width="16" height="31.6"/><rect x="78.4" y="907.2" width="16" height="10.1"/><rect x="99.3" y="900.9" width="16" height="9.1"/><rect x="120.2" y="893.3" width="16" height="7.9"/><rect x="141.1" y="890.9" width="16" height="4.2"/><rect x="162" y="884.6" width="16" height="6.9"/><rect x="182.9" y="887" width="16" height="15.1"/><rect x="203.8" y="900.9" width="16" height="24.8"/><rect x="224.7" y="926.1" width="16" height="13.5"/><rect x="245.6" y="874.5" width="16" height="51.8"/><rect x="266.5" y="869" width="16" height="13.9"/><rect x="287.4" y="883.4" width="16" height="16.5"/><rect x="308.3" y="893.7" width="16" height="4.8"/><rect x="329.2" y="889.1" width="16" height="8.4"/><rect x="350.1" y="891.3" width="16" height="8.4"/><rect x="371" y="886" width="16" height="14.2"/><rect x="391.9" y="876.5" width="16" height="10"/><rect x="412.8" y="876.2" width="16" height="4.3"/><rect x="433.7" y="877.7" width="16" height="4.5"/><rect x="454.6" y="878.1" width="16" height="14.9"/><rect x="475.5" y="892.8" width="16" height="23.3"/><rect x="496.4" y="916.3" width="16" height="4.6"/><rect x="517.3" y="915.8" width="16" height="7.2"/><rect x="538.2" y="909.6" width="16" height="6.2"/>
</g>
<g fill="#8eb0f0" stroke="#5584dc" stroke-width="1">
<rect x="57.5" y="883.7" width="16" height="18.6"/><rect x="78.4" y="907.2" width="16" height="7.6"/><rect x="99.3" y="900.9" width="16" height="6.8"/><rect x="120.2" y="893.3" width="16" height="4"/><rect x="141.1" y="890.9" width="16" height="1.8"/><rect x="162" y="884.6" width="16" height="2.1"/><rect x="182.9" y="887" width="16" height="8.9"/><rect x="203.8" y="900.9" width="16" height="5.5"/><rect x="224.7" y="926.1" width="16" height="9.6"/><rect x="245.6" y="874.5" width="16" height="25.9"/><rect x="266.5" y="869" width="16" height="4.3"/><rect x="287.4" y="883.4" width="16" height="11.8"/><rect x="308.3" y="893.7" width="16" height="2.2"/><rect x="329.2" y="889.1" width="16" height="2.9"/><rect x="350.1" y="891.3" width="16" height="4.4"/><rect x="371" y="886" width="16" height="6.3"/><rect x="391.9" y="876.5" width="16" height="5.5"/><rect x="412.8" y="876.2" width="16" height="2.1"/><rect x="433.7" y="877.7" width="16" height="2.3"/><rect x="454.6" y="878.1" width="16" height="6.2"/><rect x="475.5" y="892.8" width="16" height="13.6"/><rect x="496.4" y="916.3" width="16" height="2.8"/><rect x="517.3" y="915.8" width="16" height="3.6"/><rect x="538.2" y="909.6" width="16" height="2.8"/>
</g>
<text class="lb" fill="#8aaef0"><tspan x="65.5" y="881.2">17.4</tspan><tspan x="86.4" y="904.7">03.7</tspan><tspan x="107.3" y="898.4">07.4</tspan><tspan x="128.2" y="890.8">11.8</tspan><tspan x="149.1" y="888.4">13.2</tspan><tspan x="170" y="882.1">16.9</tspan><tspan x="190.9" y="884.5">15.5</tspan><tspan x="211.8" y="898.4">07.4</tspan><tspan x="232.7" y="923.6">92.7</tspan><tspan x="253.6" y="872">22.8</tspan><tspan x="274.5" y="866.5">26.0</tspan><tspan x="295.4" y="880.9">17.6</tspan><tspan x="316.3" y="891.2">11.6</tspan><tspan x="337.2" y="886.6">14.3</tspan><tspan x="358.1" y="888.8">13.0</tspan><tspan x="379" y="883.5">16.1</tspan><tspan x="399.9" y="874">21.6</tspan><tspan x="420.8" y="873.7">21.8</tspan><tspan x="441.7" y="875.2">20.9</tspan><tspan x="462.6" y="875.6">20.7</tspan><tspan x="483.5" y="890.3">12.1</tspan><tspan x="504.4" y="913.8">98.4</tspan><tspan x="525.3" y="913.3">98.7</tspan><tspan x="546.2" y="907.1">02.3</tspan></text>
<text class="lb" fill="#8aaef0"><tspan x="65.5" y="924.8">99.0</tspan><tspan x="86.4" y="926.8">97.8</tspan><tspan x="107.3" y="919.5">02.1</tspan><tspan x="128.2" y="910.7">07.2</tspan><tspan x="149.1" y="904.6">10.8</tspan><tspan x="170" y="901">12.9</tspan><tspan x="190.9" y="911.6">06.7</tspan><tspan x="211.8" y="935.2">92.9</tspan><tspan x="232.7" y="949.1">84.8</tspan><tspan x="253.6" y="935.8">92.6</tspan><tspan x="274.5" y="892.4">17.9</tspan><tspan x="295.4" y="909.4">08.0</tspan><tspan x="316.3" y="908">08.8</tspan><tspan x="337.2" y="907">09.4</tspan><tspan x="358.1" y="909.2">08.1</tspan><tspan x="379" y="909.7">07.8</tspan><tspan x="399.9" y="896">15.8</tspan><tspan x="420.8" y="890">19.3</tspan><tspan x="441.7" y="891.7">18.3</tspan><tspan x="462.6" y="902.5">12.0</tspan><tspan x="483.5" y="925.6">98.5</tspan><tspan x="504.4" y="930.4">95.7</tspan><tspan x="525.3" y="932.5">94.5</tspan><tspan x="546.2" y="925.3">98.7</tspan></text>
<text class="st" y="859"><tspan x="63">Pm: 1009.0 hPa</tspan><tspan x="154">Pxx: 1026.0 hPa</tspan><tspan x="246.7">Pnn: 984.8 hPa</tspan><tspan x="335">Pmx: 1023.5 hPa</tspan><tspan x="431">Pmn: 987.7 hPa</tspan></text>
<rect x="55" y="845" width="648" height="120" fill="none" stroke="#1a1a1a" stroke-width="1.6"/>
<text class="tk"><tspan x="51" y="849.5">1040</tspan><tspan x="51" y="866.6">1030</tspan><tspan x="51" y="883.8">1020</tspan><tspan x="51" y="900.9">1010</tspan><tspan x="51" y="918.1">1000</tspan><tspan x="51" y="935.2">990</tspan><tspan x="51" y="952.4">980</tspan><tspan x="51" y="969.5">970</tspan></text>
<text class="ax" transform="translate(21.5,905) rotate(-90)">hPa</text>
<text class="ax" transform="translate(720,905) rotate(-90)">Luftdruck (NHN)</text>
<text class="dl" y="978.5"><tspan x="65.5">1</tspan><tspan x="86.4">2</tspan><tspan x="107.3">3</tspan><tspan x="128.2">4</tspan><tspan x="149.1">5</tspan><tspan x="170">6</tspan><tspan x="190.9">7</tspan><tspan x="211.8">8</tspan><tspan x="232.7">9</tspan><tspan x="253.6">10</tspan><tspan x="274.5">11</tspan><tspan x="295.4">12</tspan><tspan x="316.3">13</tspan><tspan x="337.2">14</tspan><tspan x="358.1">15</tspan><tspan x="379">16</tspan><tspan x="399.9">17</tspan><tspan x="420.8">18</tspan><tspan x="441.7">19</tspan><tspan x="462.6">20</tspan><tspan x="483.5">21</tspan><tspan x="504.4">22</tspan><tspan x="525.3">23</tspan><tspan x="546.2">24</tspan><tspan x="567.1">25</tspan><tspan x="588">26</tspan><tspan x="608.9">27</tspan><tspan x="629.8">28</tspan><tspan x="650.7">29</tspan><tspan x="671.6">30</tspan><tspan x="692.5">31</tspan></text>

<!-- ========== WIND ========== -->
<rect x="55" y="985" width="648" height="10" fill="#fde8da"/>
<rect x="55" y="995" width="648" height="26" fill="#faf2d6"/>
<rect x="55" y="1021" width="648" height="24" fill="#f4f5d2"/>
<rect x="55" y="1045" width="648" height="22" fill="#eef7d6"/>
<rect x="55" y="1067" width="648" height="20" fill="#e9f8dc"/>
<rect x="55" y="1087" width="648" height="18" fill="#e6f9e6"/>
<rect x="55" y="1105" width="648" height="16" fill="#ebfbf2"/>
<rect x="55" y="1121" width="648" height="24" fill="#effcfb"/>
<path d="M55 995H703M55 1021H703M55 1045H703M55 1067H703M55 1087H703M55 1105H703M55 1121H703M55 1133H703" stroke="#000" stroke-opacity="0.04" stroke-width="1"/>
<path d="M55 1005H703M55 1025H703M55 1045H703M55 1065H703M55 1085H703M55 1105H703M55 1125H703" stroke="#000" stroke-opacity="0.08" stroke-width="1"/>
<rect x="55" y="985" width="648" height="160" fill="url(#vgw)"/>
<line x1="556.6" y1="985" x2="556.6" y2="1145" stroke="#e8a8a8" stroke-width="1"/>
<svg x="55" y="985" width="648" height="160" overflow="hidden">
<g class="bf" transform="translate(-55,-985)">
<text fill="#f0d8c4" class="bf"><tspan x="136" y="996">9</tspan><tspan x="297" y="996">9</tspan><tspan x="459" y="996">9</tspan><tspan x="620" y="996">9</tspan></text>
<text fill="#ebe2bc" class="bf"><tspan x="136" y="1014.5">8</tspan><tspan x="297" y="1014.5">8</tspan><tspan x="459" y="1014.5">8</tspan><tspan x="620" y="1014.5">8</tspan></text>
<text fill="#e2e5b4" class="bf"><tspan x="136" y="1038.8">7</tspan><tspan x="297" y="1038.8">7</tspan><tspan x="459" y="1038.8">7</tspan><tspan x="620" y="1038.8">7</tspan></text>
<text fill="#d8e8bd" class="bf"><tspan x="136" y="1062">6</tspan><tspan x="297" y="1062">6</tspan><tspan x="459" y="1062">6</tspan><tspan x="620" y="1062">6</tspan></text>
<text fill="#cfe9c0" class="bf"><tspan x="136" y="1083">5</tspan><tspan x="297" y="1083">5</tspan><tspan x="459" y="1083">5</tspan><tspan x="620" y="1083">5</tspan></text>
<text fill="#c4ecca" class="bf"><tspan x="136" y="1102">4</tspan><tspan x="297" y="1102">4</tspan><tspan x="459" y="1102">4</tspan><tspan x="620" y="1102">4</tspan></text>
<text fill="#c8ede0" class="bf"><tspan x="136" y="1118.8">3</tspan><tspan x="297" y="1118.8">3</tspan><tspan x="459" y="1118.8">3</tspan><tspan x="620" y="1118.8">3</tspan></text>
<text fill="#c2eee4" class="bf"><tspan x="136" y="1133">2</tspan><tspan x="297" y="1133">2</tspan><tspan x="459" y="1133">2</tspan><tspan x="620" y="1133">2</tspan></text>
</g>
</svg>
<polyline fill="none" stroke="#d6307f" stroke-width="1.3" points="65.5,1039 86.4,1025 107.3,1043 128.2,1057 149.1,1085 170,1103 190.9,1053 211.8,1071 232.7,1035 253.6,1095 274.5,1087 295.4,1073 316.3,1093 337.2,1109 358.1,1067 379,1057 399.9,1085 420.8,1075 441.7,1079 462.6,1083 483.5,1073 504.4,1067 525.3,1069 546.2,1083"/>
<polyline fill="none" stroke="#f5895a" stroke-width="1.3" points="65.5,1101 86.4,1101 107.3,1111 128.2,1113 149.1,1123 170,1129 190.9,1115 211.8,1115 232.7,1103 253.6,1125 274.5,1121 295.4,1115 316.3,1123 337.2,1129 358.1,1113 379,1121 399.9,1117 420.8,1111 441.7,1111 462.6,1115 483.5,1107 504.4,1111 525.3,1105 546.2,1117"/>
<g fill="#d6307f">
<rect x="64" y="1037.5" width="3" height="3"/><rect x="84.9" y="1023.5" width="3" height="3"/><rect x="105.8" y="1041.5" width="3" height="3"/><rect x="126.7" y="1055.5" width="3" height="3"/><rect x="147.6" y="1083.5" width="3" height="3"/><rect x="168.5" y="1101.5" width="3" height="3"/><rect x="189.4" y="1051.5" width="3" height="3"/><rect x="210.3" y="1069.5" width="3" height="3"/><rect x="231.2" y="1033.5" width="3" height="3"/><rect x="252.1" y="1093.5" width="3" height="3"/><rect x="273" y="1085.5" width="3" height="3"/><rect x="293.9" y="1071.5" width="3" height="3"/><rect x="314.8" y="1091.5" width="3" height="3"/><rect x="335.7" y="1107.5" width="3" height="3"/><rect x="356.6" y="1065.5" width="3" height="3"/><rect x="377.5" y="1055.5" width="3" height="3"/><rect x="398.4" y="1083.5" width="3" height="3"/><rect x="419.3" y="1073.5" width="3" height="3"/><rect x="440.2" y="1077.5" width="3" height="3"/><rect x="461.1" y="1081.5" width="3" height="3"/><rect x="482" y="1071.5" width="3" height="3"/><rect x="502.9" y="1065.5" width="3" height="3"/><rect x="523.8" y="1067.5" width="3" height="3"/><rect x="544.7" y="1081.5" width="3" height="3"/>
</g>
<g fill="#f5895a">
<rect x="64" y="1099.5" width="3" height="3"/><rect x="84.9" y="1099.5" width="3" height="3"/><rect x="105.8" y="1109.5" width="3" height="3"/><rect x="126.7" y="1111.5" width="3" height="3"/><rect x="147.6" y="1121.5" width="3" height="3"/><rect x="168.5" y="1127.5" width="3" height="3"/><rect x="189.4" y="1113.5" width="3" height="3"/><rect x="210.3" y="1113.5" width="3" height="3"/><rect x="231.2" y="1101.5" width="3" height="3"/><rect x="252.1" y="1123.5" width="3" height="3"/><rect x="273" y="1119.5" width="3" height="3"/><rect x="293.9" y="1113.5" width="3" height="3"/><rect x="314.8" y="1121.5" width="3" height="3"/><rect x="335.7" y="1127.5" width="3" height="3"/><rect x="356.6" y="1111.5" width="3" height="3"/><rect x="377.5" y="1119.5" width="3" height="3"/><rect x="398.4" y="1115.5" width="3" height="3"/><rect x="419.3" y="1109.5" width="3" height="3"/><rect x="440.2" y="1109.5" width="3" height="3"/><rect x="461.1" y="1113.5" width="3" height="3"/><rect x="482" y="1105.5" width="3" height="3"/><rect x="502.9" y="1109.5" width="3" height="3"/><rect x="523.8" y="1103.5" width="3" height="3"/><rect x="544.7" y="1115.5" width="3" height="3"/>
</g>
<text class="lb" fill="#d6307f" style="font-size:10px"><tspan x="65.5" y="1036">53</tspan><tspan x="86.4" y="1021.5">60</tspan><tspan x="107.3" y="1039.5">51</tspan><tspan x="128.2" y="1053.5">44</tspan><tspan x="149.1" y="1081.5">30</tspan><tspan x="170" y="1099.5">21</tspan><tspan x="190.9" y="1049.5">46</tspan><tspan x="211.8" y="1067.5">37</tspan><tspan x="232.7" y="1031.5">55</tspan><tspan x="253.6" y="1091.5">25</tspan><tspan x="274.5" y="1083.5">29</tspan><tspan x="295.4" y="1069.5">36</tspan><tspan x="316.3" y="1089.5">26</tspan><tspan x="337.2" y="1105.5">18</tspan><tspan x="358.1" y="1063.5">39</tspan><tspan x="379" y="1053.5">44</tspan><tspan x="399.9" y="1081.5">30</tspan><tspan x="420.8" y="1071.5">35</tspan><tspan x="441.7" y="1075.5">33</tspan><tspan x="462.6" y="1079.5">31</tspan><tspan x="483.5" y="1069.5">36</tspan><tspan x="504.4" y="1063.5">39</tspan><tspan x="525.3" y="1065.5">38</tspan><tspan x="546.2" y="1079.5">31</tspan></text>
<text class="lb" fill="#f5895a" style="font-size:10px"><tspan x="65.5" y="1098.5">22</tspan><tspan x="86.4" y="1098.5">22</tspan><tspan x="107.3" y="1107.5">17</tspan><tspan x="128.2" y="1109.5">16</tspan><tspan x="149.1" y="1119.5">11</tspan><tspan x="170" y="1127">8</tspan><tspan x="190.9" y="1111.5">15</tspan><tspan x="211.8" y="1111.5">15</tspan><tspan x="232.7" y="1099.5">21</tspan><tspan x="253.6" y="1121.5">10</tspan><tspan x="274.5" y="1117.5">12</tspan><tspan x="295.4" y="1111.5">15</tspan><tspan x="316.3" y="1119.5">11</tspan><tspan x="337.2" y="1127">8</tspan><tspan x="358.1" y="1109.5">16</tspan><tspan x="379" y="1117.5">12</tspan><tspan x="399.9" y="1113.5">14</tspan><tspan x="420.8" y="1107.5">17</tspan><tspan x="441.7" y="1107.5">17</tspan><tspan x="462.6" y="1111.5">15</tspan><tspan x="483.5" y="1103.5">19</tspan><tspan x="504.4" y="1107.5">17</tspan><tspan x="525.3" y="1101.5">20</tspan><tspan x="546.2" y="1113.5">14</tspan></text>
<text class="st" y="998.5"><tspan x="63">Ff: 15.1 km/h</tspan><tspan x="139.3">Fxm: 37.1 km/h</tspan><tspan x="227.7">Fxx: 60.5 km/h</tspan><tspan x="311.7">Fmx: 35.3 km/h</tspan><tspan x="399.3">Ffx: 21.6 km/h</tspan><tspan x="480.7">nFx≥12Bft: 0</tspan></text>
<rect x="55" y="985" width="648" height="160" fill="none" stroke="#1a1a1a" stroke-width="1.6"/>
<text class="tk"><tspan x="51" y="989.5">80</tspan><tspan x="51" y="1009.5">70</tspan><tspan x="51" y="1029.5">60</tspan><tspan x="51" y="1049.5">50</tspan><tspan x="51" y="1069.5">40</tspan><tspan x="51" y="1089.5">30</tspan><tspan x="51" y="1109.5">20</tspan><tspan x="51" y="1129.5">10</tspan><tspan x="51" y="1149.5">0</tspan></text>
<text class="ax" transform="translate(27.5,1065) rotate(-90)">km/h</text>
<text class="ax" transform="translate(720,1065) rotate(-90)">Windgeschwindigkeit</text>
<text class="dl" y="1158.5"><tspan x="65.5">1</tspan><tspan x="86.4">2</tspan><tspan x="107.3">3</tspan><tspan x="128.2">4</tspan><tspan x="149.1">5</tspan><tspan x="170">6</tspan><tspan x="190.9">7</tspan><tspan x="211.8">8</tspan><tspan x="232.7">9</tspan><tspan x="253.6">10</tspan><tspan x="274.5">11</tspan><tspan x="295.4">12</tspan><tspan x="316.3">13</tspan><tspan x="337.2">14</tspan><tspan x="358.1">15</tspan><tspan x="379">16</tspan><tspan x="399.9">17</tspan><tspan x="420.8">18</tspan><tspan x="441.7">19</tspan><tspan x="462.6">20</tspan><tspan x="483.5">21</tspan><tspan x="504.4">22</tspan><tspan x="525.3">23</tspan><tspan x="546.2">24</tspan><tspan x="567.1">25</tspan><tspan x="588">26</tspan><tspan x="608.9">27</tspan><tspan x="629.8">28</tspan><tspan x="650.7">29</tspan><tspan x="671.6">30</tspan><tspan x="692.5">31</tspan></text>

<text x="364" y="1171" font-size="11.5" fill="#999" text-anchor="middle" textLength="464" lengthAdjust="spacing">Erstellt von mtwetter.de | Datenbasis: Deutscher Wetterdienst, dwd.de | 24.01.2026, 17:09 UTC</text>
</svg>
</body></html>
